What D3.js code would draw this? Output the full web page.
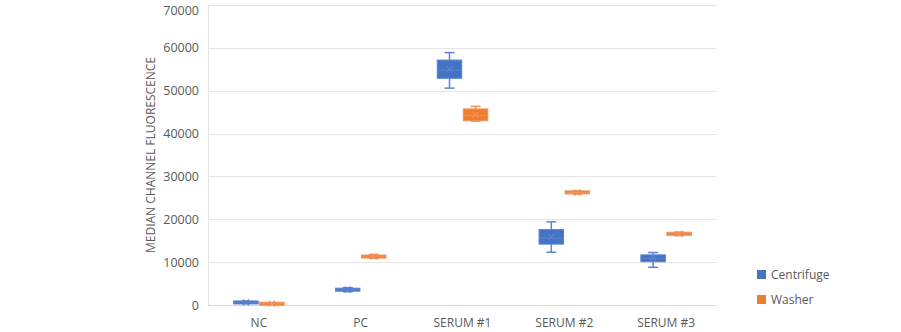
<!DOCTYPE html>
<html><head><meta charset="utf-8">
<script src="https://cdn.jsdelivr.net/npm/d3@7"></script>
<style>body{margin:0;background:#fff}svg{display:block}text{font-family:"Open Sans","Noto Sans",sans-serif}</style>
</head><body><svg id="c" width="901" height="332"></svg>
<script>
const categories = ["NC","PC","SERUM #1","SERUM #2","SERUM #3"];
const seriesNames = ["Centrifuge","Washer"];
const colors = ["#4472C4","#ED7D31"];
const strokes = ["#5B84CE","#F0935A"];
// [min, q1, median, q3, max, mean] per category
const centrifugeStats = [
  [350, 450, 600, 750, 850, 620],
  [3100, 3250, 3550, 3900, 4050, 3580],
  [50600, 52900, 54800, 57150, 58900, 55000],
  [12300, 14200, 15600, 17600, 19400, 15900],
  [8800, 10100, 10900, 11700, 12250, 11000]
];
const washerStats = [
  [150, 200, 300, 400, 500, 320],
  [10900, 11000, 11250, 11600, 11800, 11300],
  [42900, 43000, 44200, 45750, 46350, 44400],
  [25900, 26050, 26250, 26500, 26600, 26250],
  [16200, 16350, 16600, 16900, 17000, 16600]
];
const yTicks = [0,10000,20000,30000,40000,50000,60000,70000];
const yTitle = "MEDIAN CHANNEL FLUORESCENCE";

const svg = d3.select("#c");
const L = 208, R = 717, T = 5, B = 305;
const x = d3.scaleBand().domain(categories).range([L,R]);
const y = d3.scaleLinear().domain([0,70000]).range([B,T]);

// gridlines
svg.append("g").selectAll("line").data(yTicks).join("line")
  .attr("x1",L).attr("x2",R).attr("y1",d=>Math.round(y(d))+0.5).attr("y2",d=>Math.round(y(d))+0.5)
  .attr("stroke",d=>d===0?"#D9D9D9":"#E5E5E5").attr("stroke-width",1);
svg.append("line").attr("x1",L+0.5).attr("x2",L+0.5).attr("y1",T).attr("y2",B).attr("stroke","#E5E5E5");

// y axis labels
const ya = svg.append("g").attr("transform",`translate(${L-6},0)`)
  .call(d3.axisLeft(y).tickValues(yTicks).tickSize(0).tickFormat(d3.format("d")));
ya.select(".domain").remove();
ya.selectAll("text").attr("fill","#595959").attr("font-size","12.5px").attr("dx","0")
  .attr("dy", d => d===70000 ? "0.75em" : "0.32em");

// x axis labels
const xa = svg.append("g").attr("transform",`translate(0,${B+10})`)
  .call(d3.axisBottom(x).tickSize(0));
xa.select(".domain").remove();
xa.selectAll("text").attr("fill","#595959").attr("font-size","12px");

svg.append("text").attr("transform",`translate(155,${(T+B)/2}) rotate(-90)`)
  .attr("text-anchor","middle").attr("font-size","12px").attr("fill","#595959").text(yTitle);

const allStats = [centrifugeStats, washerStats];
const boxW = 24.5, gap = 1.5;
allStats.forEach((stats, si) => {
  const g = svg.append("g");
  stats.forEach((s, ci) => {
    const cx = x(categories[ci]) + x.bandwidth()/2;
    const x0 = si===0 ? cx - gap/2 - boxW : cx + gap/2;
    const mid = x0 + boxW/2;
    const [mn,q1,md,q3,mx,mean] = s;
    g.append("line").attr("x1",mid).attr("x2",mid).attr("y1",y(mx)).attr("y2",y(q3)).attr("stroke",strokes[si]).attr("stroke-width",1.5);
    g.append("line").attr("x1",mid).attr("x2",mid).attr("y1",y(q1)).attr("y2",y(mn)).attr("stroke",strokes[si]).attr("stroke-width",1.5);
    [mn,mx].forEach(v=>g.append("line").attr("x1",mid-5).attr("x2",mid+5).attr("y1",y(v)).attr("y2",y(v)).attr("stroke",strokes[si]).attr("stroke-width",1.5));
    const h = Math.max(y(q1)-y(q3),3);
    g.append("rect").attr("x",x0).attr("width",boxW).attr("y",(y(q1)+y(q3))/2-h/2).attr("height",h)
      .attr("fill",colors[si]).attr("stroke",strokes[si]).attr("stroke-width",1);
    g.append("line").attr("x1",x0).attr("x2",x0+boxW).attr("y1",y(md)).attr("y2",y(md)).attr("stroke",strokes[si]).attr("stroke-width",1);
    const my = y(mean), r = 3;
    g.append("path").attr("d",`M${mid-r},${my-r}L${mid+r},${my+r}M${mid-r},${my+r}L${mid+r},${my-r}`)
      .attr("stroke",strokes[si]).attr("stroke-width",1.2).attr("fill","none");
  });
});

// legend
const lg = svg.append("g");
seriesNames.forEach((n,i)=>{
  const ly = 275 + i*25;
  lg.append("rect").attr("x",757).attr("y",ly-5).attr("width",9).attr("height",9).attr("fill",colors[i]);
  lg.append("text").attr("x",771).attr("y",ly+4).attr("font-size","12px").attr("fill","#595959").text(n);
});
</script></body></html>
